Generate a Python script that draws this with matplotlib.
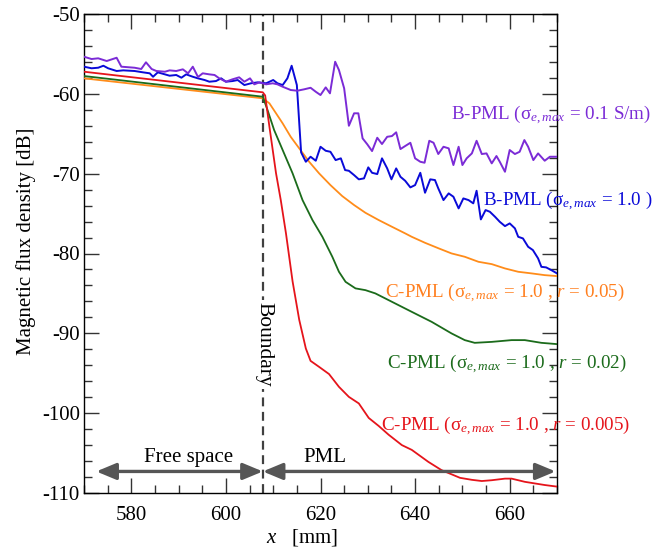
import matplotlib
matplotlib.use("Agg")
import matplotlib.pyplot as plt
from matplotlib.ticker import MultipleLocator

plt.rcParams['font.family'] = ['Liberation Serif', 'DejaVu Serif']
plt.rcParams['mathtext.fontset'] = 'custom'
plt.rcParams['mathtext.rm'] = 'Liberation Serif'
plt.rcParams['mathtext.it'] = 'Liberation Serif:italic'
plt.rcParams['mathtext.bf'] = 'Liberation Serif:bold'
plt.rcParams['axes.unicode_minus'] = False

# ---------------- data ----------------
boundary_x = 607.8

bpml01_x = [570.0, 571.6, 573.0, 574.8, 576.9, 577.9, 580.7, 582.1, 583.1, 584.3, 585.3, 587.1,
            588.1, 589.5, 590.9, 592.0, 593.0, 594.1, 595.1, 596.5, 597.6, 598.6, 600.0, 601.4,
            602.8, 603.9, 605.1, 606.0, 607.1,
            608.5, 609.9, 610.9, 612.0, 613.7, 615.1, 616.5, 617.9, 619.0, 620.0, 621.1, 622.0,
            623.1, 623.9, 625.0, 626.0, 627.1, 628.0, 628.9, 629.9, 630.9, 632.0, 633.0, 634.1,
            635.1, 636.0,
            636.9, 637.9, 639.0, 640.0, 641.1, 642.0, 643.0, 643.9, 644.9, 646.0, 647.1, 648.1,
            649.2, 650.0, 650.9, 652.0, 653.0, 654.1, 655.1, 656.2, 657.2, 657.9, 659.0, 660.0,
            661.1, 662.1, 663.1, 663.9, 665.0, 666.0, 667.4, 668.5, 670.0]
bpml01_y = [-55.35, -55.64, -55.55, -55.89, -55.48, -56.60, -56.73, -56.89, -56.05, -56.89, -57.14,
            -57.23, -57.06, -57.14, -56.93, -57.43, -56.60, -57.89, -57.43, -57.56, -57.64, -58.06,
            -58.48, -58.18, -57.93, -58.48, -58.06, -58.81, -58.56,
            -58.81, -58.68, -58.81, -59.11, -59.52, -59.61, -59.44, -59.24, -59.74, -60.15, -59.19,
            -59.94, -55.98, -57.02, -59.31, -64.00, -62.44, -62.44, -65.58, -66.33, -67.17, -65.50,
            -66.29, -65.38, -65.29, -64.82,
            -66.92, -66.54, -66.13, -68.08, -68.51, -68.63, -65.88, -66.13, -67.54, -66.63, -66.83,
            -68.92, -66.63, -68.92, -68.08, -67.46, -65.88, -67.54, -67.46, -68.71, -67.79, -68.51,
            -69.76, -67.04, -67.54, -67.26, -65.79, -66.63, -68.30, -67.46, -68.38, -67.88, -67.88]

bpml10_x = [570.0, 571.6, 573.0, 574.1, 575.1, 576.9, 578.3, 580.7, 582.5, 583.9, 584.6, 585.6,
            587.1, 588.1, 589.5, 590.6, 591.6, 593.0, 594.1, 595.5, 596.5, 597.9, 599.0, 600.0,
            601.4, 602.5, 603.9, 605.3, 606.7,
            608.5, 610.0, 610.9, 612.0, 613.0, 613.9, 615.0,
            615.9, 616.9, 617.9, 619.0, 620.0, 621.1, 622.1, 623.2, 624.3, 625.2, 626.0, 627.1,
            628.1, 629.2, 630.1, 630.9, 632.0, 633.0, 634.1, 635.0, 636.0,
            636.9, 637.9, 639.0, 640.0, 641.1, 642.1, 643.2, 644.2, 644.9, 646.0, 647.1, 648.1,
            649.2, 650.2, 651.3, 652.3, 653.0, 653.9, 654.9, 655.8, 656.9, 657.9, 659.0, 660.0,
            661.1, 661.8, 662.8, 663.9, 664.9, 666.0, 666.7, 667.7, 668.8, 670.0]
bpml10_y = [-56.60, -56.80, -56.73, -56.48, -56.80, -57.14, -57.06, -57.14, -57.31, -57.43, -57.86,
            -57.31, -57.56, -57.73, -57.64, -57.98, -57.56, -57.86, -58.06, -58.27, -58.48, -58.40,
            -58.06, -58.48, -58.40, -58.27, -58.90, -58.68, -58.56,
            -58.68, -58.27, -58.68, -58.90, -58.06, -56.48, -58.90,
            -67.33, -68.51, -67.88, -68.38, -66.63, -67.13, -67.26, -68.30, -68.08, -69.55, -69.64,
            -70.18, -70.71, -70.59, -69.21, -69.89, -70.05, -68.08, -69.34, -70.71, -69.34,
            -70.39, -70.89, -71.72, -71.43, -69.89, -72.39, -70.71, -70.80, -71.84, -73.31, -72.47,
            -72.89, -74.35, -73.10, -73.31, -73.72, -72.14, -75.73, -74.56, -74.77, -75.40, -76.03,
            -76.57, -76.23, -76.85, -77.91, -78.11, -79.16, -79.57, -80.61, -81.67, -81.74, -82.08,
            -82.49]

cpml005_x = [570.0, 607.8, 609.2, 610.6, 612.0, 613.7, 615.5, 617.6, 619.7, 622.1, 624.6, 627.1,
             629.5, 632.3, 635.1, 637.9, 639.3, 642.1, 645.0, 647.7, 650.5, 653.4, 656.2, 659.0,
             661.8, 664.6, 667.4, 670.0]
cpml005_y = [-58.06, -60.56, -61.19, -62.44, -63.70, -65.38, -66.83, -68.51, -69.96, -71.43, -72.81,
             -73.93, -74.90, -75.81, -76.65, -77.48, -77.91, -78.66, -79.36, -79.99, -80.41, -81.04,
             -81.33, -81.87, -82.29, -82.49, -82.71, -82.83]

cpml002_x = [570.0, 607.8, 608.8, 610.2, 612.0, 614.1, 616.2, 618.3, 620.4, 622.5, 623.9, 625.3,
             627.4, 629.5, 631.6, 635.1, 639.3, 643.5, 647.7, 650.5, 652.6, 656.2, 660.4, 663.2,
             666.7, 670.0]
cpml002_y = [-57.77, -60.36, -62.03, -64.54, -67.04, -69.96, -73.31, -75.81, -77.91, -80.41, -82.29,
             -83.55, -84.37, -84.59, -85.00, -86.05, -87.31, -88.56, -90.01, -90.85, -91.19, -91.07,
             -90.85, -90.85, -91.19, -91.35]

cpml0005_x = [570.0, 607.8, 608.3, 609.2, 610.6, 611.6, 612.7, 614.1, 615.5, 616.9, 617.9, 619.7,
              621.8, 623.9, 626.0, 628.1, 630.2, 632.3, 634.4, 637.2, 639.3, 642.8, 645.6, 649.5,
              652.0, 654.1, 656.2, 659.0, 660.4, 663.2, 667.4, 670.0]
cpml0005_y = [-57.23, -59.81, -60.20, -64.12, -69.96, -73.31, -77.48, -83.50, -88.30, -91.90, -93.45,
              -94.20, -95.10, -96.70, -97.96, -98.78, -100.60, -101.60, -102.70, -104.00, -104.60,
              -106.10, -107.14, -108.10, -108.35, -108.50, -108.40, -108.20, -108.20, -108.60,
              -109.00, -109.20]

x_ticks = [580, 600, 620, 640, 660]
y_ticks = [-50, -60, -70, -80, -90, -100, -110]

# colours
c_purple = '#7B2BD6'
c_blue = '#0A0AD8'
c_orange = '#FF8C1A'
c_green = '#1B6B1B'
c_red = '#E5141B'
c_gray = '#565656'

# ---------------- figure ----------------
fig = plt.figure(figsize=(6.61, 5.51), dpi=100)
ax = fig.add_axes([84 / 661, 1 - 493 / 551, (557 - 84) / 661, (493 - 14) / 551])

ax.plot(cpml005_x, cpml005_y, color=c_orange, lw=1.3, zorder=3)
ax.plot(cpml002_x, cpml002_y, color=c_green, lw=1.3, zorder=3)
ax.plot(cpml0005_x, cpml0005_y, color=c_red, lw=1.3, zorder=3)
ax.plot(bpml10_x, bpml10_y, color=c_blue, lw=1.4, zorder=4)
ax.plot(bpml01_x, bpml01_y, color=c_purple, lw=1.4, zorder=5)

ax.axvline(boundary_x, color='#404040', lw=1.6, ls=(0, (4, 2.5)), zorder=2)

ax.set_xlim(570, 670)
ax.set_ylim(-110, -50)
ax.set_xticks(x_ticks)
ax.set_yticks(y_ticks)
ax.xaxis.set_minor_locator(MultipleLocator(5))
ax.yaxis.set_minor_locator(MultipleLocator(2))
ax.tick_params(which='both', direction='in', top=True, right=True, color='#333333', width=1.0)
ax.tick_params(which='major', length=11, labelsize=15)
ax.tick_params(which='minor', length=6)
ax.tick_params(axis='x', which='major', pad=9)
ax.tick_params(axis='y', which='major', pad=3)
for s in ax.spines.values():
    s.set_linewidth(1.0)

ax.set_ylabel('Magnetic flux density [dB]', fontsize=15, labelpad=4)
ax.yaxis.label.set_y(0.526)
ax.set_xlabel(r'$x$   [mm]', fontsize=15, labelpad=2)
ax.xaxis.label.set_x(0.461)

# arrows
ax.annotate('', xy=(572.6, -107.3), xytext=(boundary_x, -107.3),
            arrowprops=dict(arrowstyle='<|-|>,head_length=1.2,head_width=0.5',
                            color=c_gray, lw=2.4, shrinkA=0, shrinkB=0))
ax.annotate('', xy=(boundary_x, -107.3), xytext=(669.7, -107.3),
            arrowprops=dict(arrowstyle='<|-|>,head_length=1.2,head_width=0.5',
                            color=c_gray, lw=2.4, shrinkA=0, shrinkB=0))
ax.text(592.2, -106.1, 'Free space', fontsize=15, ha='center', va='baseline')
ax.text(621.0, -106.1, 'PML', fontsize=15, ha='center', va='baseline')
ax.text(608.1, -91.35, 'Boundary', fontsize=15.5, rotation=270, ha='center', va='center',
        bbox=dict(facecolor='white', edgecolor='none', pad=1.5), zorder=6)

# series labels
fs = 13.7
ax.text(647.5, -63.2, 'B-PML (σ$_{e,max}$ = 0.1 S/m)', color=c_purple, fontsize=fs,
        ha='left', va='baseline')
ax.text(654.4, -73.9, 'B-PML (σ$_{e,max}$ = 1.0 )', color=c_blue, fontsize=fs,
        ha='left', va='baseline')
ax.text(633.7, -85.4, 'C-PML (σ$_{e,max}$ = 1.0 , $r$ = 0.05)', color='#FF7F1E', fontsize=fs,
        ha='left', va='baseline')
ax.text(634.0, -94.4, 'C-PML (σ$_{e,max}$ = 1.0 , $r$ = 0.02)', color=c_green, fontsize=fs,
        ha='left', va='baseline')
ax.text(632.7, -102.1, 'C-PML (σ$_{e,max}$ = 1.0 , $r$ = 0.005)', color=c_red, fontsize=fs,
        ha='left', va='baseline')

fig.savefig('out.png', dpi=100)
